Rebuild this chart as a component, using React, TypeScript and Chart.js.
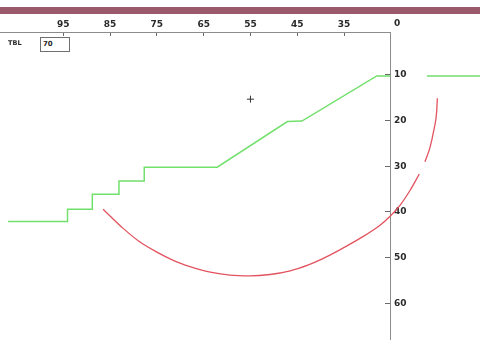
import React, { useEffect, useRef } from 'react';
import { Chart, registerables } from 'chart.js';

Chart.register(...registerables);

// Top axis (reversed) tick values and right-axis (downward) tick values
const xTickValues = [95, 85, 75, 65, 55, 45, 35];
const yTickValues = [0, 10, 20, 30, 40, 50, 60];

// Green stepped profile (null = hidden stretch behind the axis labels)
const profileX = [106.8, 94.1, 94.1, 88.8, 88.8, 83.1, 83.1, 77.7, 77.7, 62.1, 47.1, 44.0, 28.0, 25.1, 24.7, 17.3, 5.9];
const profileY: (number | null)[] = [42.1, 42.1, 39.4, 39.4, 36.1, 36.1, 33.2, 33.2, 30.2, 30.2, 20.2, 20.1, 10.2, 10.2, null, 10.2, 10.2];

// Red arc (null = small gap in the curve)
const arcX = [86.5, 82.2, 78.6, 75.0, 71.5, 67.9, 65.8, 63.6, 59.4, 55.1, 50.8, 46.5, 42.6, 40.1, 35.9, 31.6, 27.3, 25.2, 23.0, 20.9, 18.9, 18.3, 17.7, 16.6, 15.8, 15.2, 15.05];
const arcY: (number | null)[] = [39.4, 43.6, 46.6, 48.8, 50.6, 52.0, 52.65, 53.2, 53.85, 54.0, 53.7, 52.9, 51.6, 50.5, 48.3, 45.8, 42.9, 41.0, 38.5, 35.3, 31.7, null, 29.0, 25.8, 22.1, 18.1, 15.1];

// "+" marker
const markerX = [55.0];
const markerY = [15.3];

// Small field in the top-left corner
const fieldLabel = 'TBL';
const fieldValue = '70';

const GREEN = '#72e06c';
const RED = '#e2535f';
const AXIS = '#8c8c8c';
const TICK = '#6a6a6a';
const LABEL = '#2a2a2a';
const FONT = "'DejaVu Sans', Verdana, sans-serif";

const toPoints = (xs: number[], ys: (number | null)[]) =>
  xs.map((x, i) => ({ x, y: ys[i] === null ? NaN : (ys[i] as number) }));

export default function App() {
  const canvasRef = useRef<HTMLCanvasElement | null>(null);

  useEffect(() => {
    const canvas = canvasRef.current;
    if (!canvas) return;
    const chart = new Chart(canvas, {
      type: 'scatter',
      data: {
        datasets: [
          {
            data: toPoints(profileX, profileY),
            showLine: true,
            borderColor: GREEN,
            backgroundColor: GREEN,
            borderWidth: 1.5,
            pointRadius: 0,
            tension: 0,
            spanGaps: false,
            clip: false,
          },
          {
            data: toPoints(arcX, arcY),
            showLine: true,
            borderColor: RED,
            backgroundColor: RED,
            borderWidth: 1.3,
            pointRadius: 0,
            cubicInterpolationMode: 'monotone',
            spanGaps: false,
            clip: false,
          },
          {
            data: toPoints(markerX, markerY),
            showLine: false,
            pointStyle: 'cross',
            pointRadius: 3.5,
            borderColor: '#333',
            backgroundColor: '#333',
            borderWidth: 1,
            clip: false,
          },
        ],
      } as any,
      options: {
        responsive: false,
        maintainAspectRatio: false,
        animation: false,
        events: [],
        layout: { padding: 0, autoPadding: false },
        plugins: { legend: { display: false }, tooltip: { enabled: false }, title: { display: false } },
        scales: {
          x: {
            type: 'linear',
            position: 'top',
            reverse: true,
            min: 25.17,
            max: 108.53,
            afterBuildTicks: (s: any) => {
              s.ticks = xTickValues.map((v) => ({ value: v }));
            },
            afterFit: (s: any) => {
              s.height = 32;
              s.paddingLeft = 0;
              s.paddingRight = 0;
            },
            ticks: {
              autoSkip: false,
              maxRotation: 0,
              minRotation: 0,
              padding: 6,
              color: LABEL,
              font: { family: FONT, size: 9, weight: 'bold' },
              callback: (v: any) => String(v),
            },
            grid: { drawOnChartArea: false, drawTicks: true, tickLength: -4, tickColor: TICK, tickWidth: 1 },
            border: { display: true, color: AXIS, width: 1 },
          },
          y: {
            type: 'linear',
            position: 'right',
            reverse: true,
            min: 0.59,
            max: 68.05,
            afterBuildTicks: (s: any) => {
              s.ticks = yTickValues.map((v) => ({ value: v }));
            },
            afterFit: (s: any) => {
              s.width = 90;
              s.paddingTop = 0;
              s.paddingBottom = 0;
            },
            ticks: {
              autoSkip: false,
              padding: 9,
              color: LABEL,
              font: { family: FONT, size: 9, weight: 'bold' },
              callback: (v: any) => (v === 0 ? ['0', ''] : String(v)),
            },
            grid: {
              drawOnChartArea: false,
              drawTicks: true,
              tickLength: -5,
              tickWidth: 1,
              tickColor: (ctx: any) => (ctx.tick && ctx.tick.value === 0 ? 'rgba(0,0,0,0)' : TICK),
            },
            border: { display: true, color: AXIS, width: 1 },
          },
        },
      } as any,
    });
    return () => chart.destroy();
  }, []);

  return (
    <div style={{ position: 'fixed', left: 0, top: 0, width: 480, height: 340, background: '#fff', overflow: 'hidden' }}>
      <canvas ref={canvasRef} width={480} height={340} style={{ position: 'absolute', left: 0, top: 0, width: 480, height: 340 }} />
      <div style={{ position: 'absolute', left: 0, top: 7, width: 480, height: 7, background: '#9b5a6b' }} />
      <div
        style={{
          position: 'absolute',
          left: 8,
          top: 39,
          fontFamily: FONT,
          fontWeight: 'bold',
          fontSize: 6.5,
          lineHeight: '9px',
          color: LABEL,
        }}
      >
        {fieldLabel}
      </div>
      <div
        style={{
          position: 'absolute',
          left: 40,
          top: 37,
          width: 30,
          height: 15,
          boxSizing: 'border-box',
          border: '1px solid #707070',
          background: '#fff',
          fontFamily: FONT,
          fontWeight: 'bold',
          fontSize: 7,
          lineHeight: '13px',
          paddingLeft: 2,
          color: LABEL,
        }}
      >
        {fieldValue}
      </div>
    </div>
  );
}
